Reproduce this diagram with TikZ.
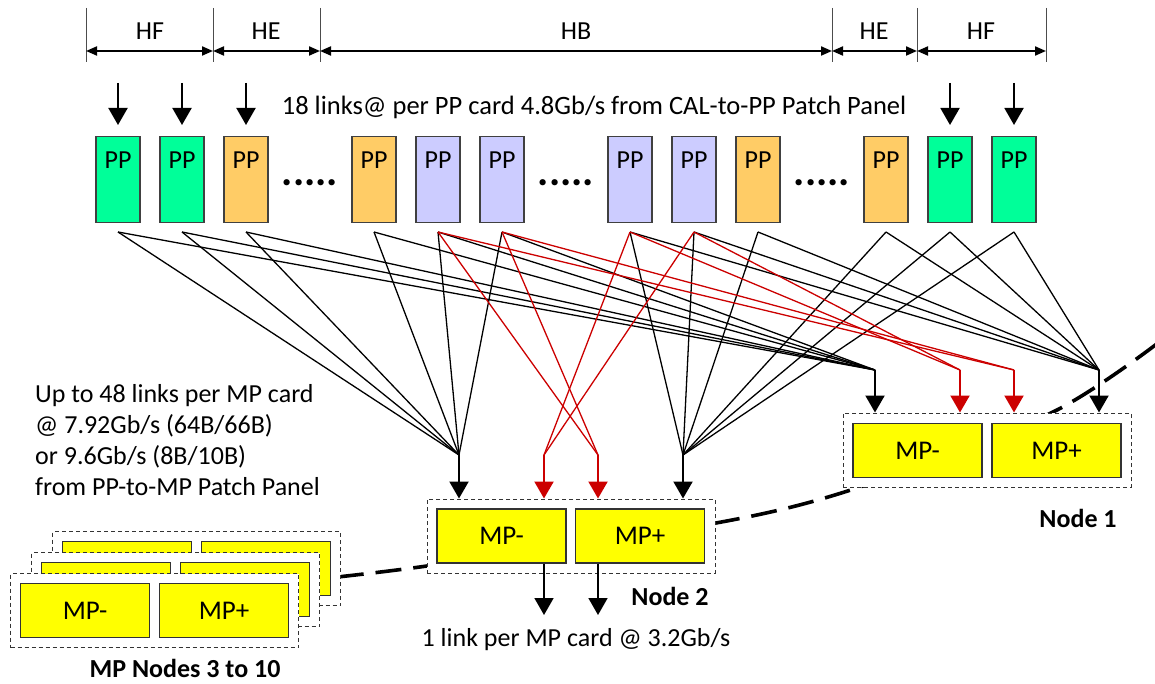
\documentclass[tikz,border=0pt]{standalone}
\usepackage{fontspec}
\setmainfont{Carlito}
\usetikzlibrary{arrows.meta}
\definecolor{ppgreen}{RGB}{0,255,153}
\definecolor{pporange}{RGB}{255,204,102}
\definecolor{pplav}{RGB}{204,204,255}
\definecolor{linkred}{RGB}{204,0,0}
\definecolor{mpyellow}{RGB}{255,255,0}
\begin{document}
\begin{tikzpicture}[x=1pt,y=-1pt,
  txt/.style={font=\fontsize{26}{31}\selectfont, inner sep=0pt},
  toptxt/.style={font=\fontsize{26.5}{31}\selectfont, inner sep=0pt},
  btxt/.style={font=\fontsize{26}{31}\selectfont\bfseries, inner sep=0pt},
  dimtxt/.style={font=\fontsize{26}{30}\selectfont, inner sep=0pt},
  ppbox/.style={draw=black!75, line width=1.2pt, minimum width=44pt, minimum height=86pt, inner sep=0pt, anchor=north},
  mpbox/.style={draw=black!80, line width=1.2pt, fill=mpyellow, minimum width=129pt, minimum height=54pt, inner sep=0pt, font=\fontsize{27}{31}\selectfont},
  nodebox/.style={draw=black!80, line width=1pt, dash pattern=on 4pt off 3pt, fill=white, minimum width=288pt, minimum height=74pt, inner sep=0pt},
  link/.style={line width=1.3pt, black},
  rlink/.style={line width=1.3pt, linkred},
  stem/.style={line width=2.2pt, -{Triangle[length=17pt,width=19pt]}},
  rstem/.style={stem, draw=linkred, fill=linkred},
  inarr/.style={line width=2pt, -{Triangle[length=17pt,width=19pt]}, shorten >=11pt},
  outarr/.style={line width=1.8pt, -{Triangle[length=17pt,width=19pt]}},
  tickline/.style={line width=1pt, black!70},
  dimarr/.style={line width=2pt, {Triangle[length=11pt,width=9pt]}-{Triangle[length=11pt,width=9pt]}},
  ellip/.style={font=\fontsize{42}{42}\selectfont\bfseries, inner sep=0pt},
  curveline/.style={line width=3.6pt, dash pattern=on 26pt off 12pt}
]
\useasboundingbox[fill=white] (0,0) rectangle (1155,684);

% dimension bar
\foreach \n/\x in {1/86,2/213,3/320,4/832,5/917,6/1046}{
  \coordinate (d\n) at (\x,51);
  \draw[tickline] (\x,8) -- (\x,62);
}
\draw[dimarr] (d1) -- (d2);
\draw[dimarr] (d2) -- (d3);
\draw[dimarr] (d3) -- (d4);
\draw[dimarr] (d4) -- (d5);
\draw[dimarr] (d5) -- (d6);
\node[dimtxt, anchor=base] (lhf1) at (150,40) {HF};
\node[dimtxt, anchor=base] (lhe1) at (266,40) {HE};
\node[dimtxt, anchor=base] (lhb) at (576,40) {HB};
\node[dimtxt, anchor=base] (lhe2) at (874,40) {HE};
\node[dimtxt, anchor=base] (lhf2) at (981,40) {HF};

% PP cards
\foreach \i/\s/\c in {1/0/ppgreen,2/1/ppgreen,3/2/pporange,4/4/pporange,5/5/pplav,6/6/pplav,7/8/pplav,8/9/pplav,9/10/pporange,10/12/pporange,11/13/ppgreen,12/14/ppgreen}{
  \node[ppbox, fill=\c] (p\i) at ({118+64*\s},136) {};
  \node[txt, anchor=base] (pt\i) at ({118+64*\s},169) {PP};
  \coordinate (s\i) at ({118+64*\s},232);
}
\node[ellip, anchor=base] (dots1) at (310,186) {.....};
\node[ellip, anchor=base] (dots2) at (566,186) {.....};
\node[ellip, anchor=base] (dots3) at (822,186) {.....};

% input arrows
\foreach \i in {1,2,3,11,12}{
  \coordinate (a\i) at (p\i.north |- 0,83);
  \draw[inarr] (a\i) -- (p\i.north);
}
\node[toptxt, anchor=base] (toptext) at (594,115) {18 links@ per PP card 4.8Gb/s from CAL-to-PP Patch Panel};

% convergence points
\coordinate (n2a) at (459,455);
\coordinate (n2b) at (544,455);
\coordinate (n2c) at (598,455);
\coordinate (n2d) at (683,455);
\coordinate (n1a) at (875,370);
\coordinate (n1b) at (960,370);
\coordinate (n1c) at (1014,370);
\coordinate (n1d) at (1099,370);

% links
\foreach \i in {1,...,6}{
  \draw[link] (s\i) -- (n2a);
  \draw[link] (s\i) -- (n1a);
}
\foreach \i in {7,...,12}{
  \draw[link] (s\i) -- (n2d);
  \draw[link] (s\i) -- (n1d);
}
\foreach \i in {5,6}{
  \draw[rlink] (s\i) -- (n2c);
  \draw[rlink] (s\i) -- (n1c);
}
\foreach \i in {7,8}{
  \draw[rlink] (s\i) -- (n2b);
  \draw[rlink] (s\i) -- (n1b);
}

% dashed chain
\draw[curveline] plot[smooth] coordinates {(300,581) (427,566) (716,523) (860,487) (1053,412) (1162,340)};

% node 2
\node[nodebox] (nb2) at (571,536) {};
\node[mpbox] (m2m) at (501.5,536) {MP-};
\node[mpbox] (m2p) at (640,536) {MP+};
% node 1
\node[nodebox] (nb1) at (987,450) {};
\node[mpbox] (m1m) at (917.5,450.5) {MP-};
\node[mpbox] (m1p) at (1056.5,450.5) {MP+};

% stacked nodes 3 to 10
\foreach \k/\nm in {2/c,1/b}{
  \node[nodebox] (sb\nm) at ({154.5+21*\k},{610.5-21*\k}) {};
  \node[mpbox] (sm\nm) at ({85+21*\k},{610.5-21*\k}) {};
  \node[mpbox] (sp\nm) at ({224+21*\k},{610.5-21*\k}) {};
}
\node[nodebox] (sba) at (154.5,610.5) {};
\node[mpbox] (sma) at (85,610.5) {MP-};
\node[mpbox] (spa) at (224,610.5) {MP+};

% stems
\draw[stem] (n2a) -- (n2a |- nb2.north);
\draw[rstem] (n2b) -- (n2b |- nb2.north);
\draw[rstem] (n2c) -- (n2c |- nb2.north);
\draw[stem] (n2d) -- (n2d |- nb2.north);
\draw[stem] (n1a) -- (n1a |- nb1.north);
\draw[rstem] (n1b) -- (n1b |- nb1.north);
\draw[rstem] (n1c) -- (n1c |- nb1.north);
\draw[stem] (n1d) -- (n1d |- nb1.north);

% outputs
\coordinate (o1) at (544,615);
\coordinate (o2) at (598,615);
\draw[outarr] (o1 |- m2m.south) -- (o1);
\draw[outarr] (o2 |- m2p.south) -- (o2);

% texts
\node[txt, anchor=base west] (l1) at (35,402) {Up to 48 links per MP card};
\node[txt, anchor=base west] (l2) at (35,433) {@ 7.92Gb/s (64B/66B)};
\node[txt, anchor=base west] (l3) at (35,464) {or 9.6Gb/s (8B/10B)};
\node[txt, anchor=base west] (l4) at (35,495) {from PP-to-MP Patch Panel};
\node[txt, anchor=base] (outtext) at (576,646) {1 link per MP card @ 3.2Gb/s};
\node[btxt, anchor=base] (node2lbl) at (670,605) {Node 2};
\node[btxt, anchor=base] (node1lbl) at (1078,527) {Node 1};
\node[btxt, anchor=base] (node310) at (185,677) {MP Nodes 3 to 10};
\end{tikzpicture}
\end{document}
